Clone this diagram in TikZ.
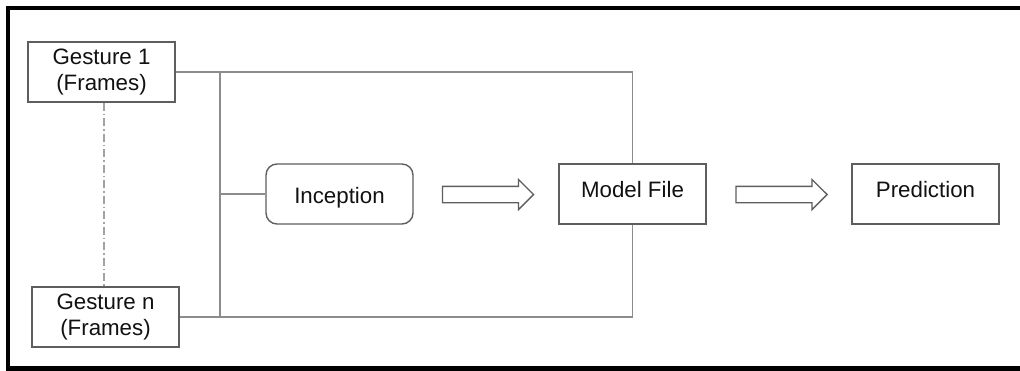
\documentclass[tikz,border=0pt]{standalone}
\usepackage{fontspec}
\setmainfont{Liberation Sans}
\usetikzlibrary{shapes.arrows}
\definecolor{boxline}{HTML}{5E5E5E}
\definecolor{wire}{HTML}{8C8C8C}
\definecolor{inktext}{HTML}{111111}
\newcommand{\basedat}[2]{\raisebox{#1}[0pt][0pt]{#2}}
\tikzset{
  stagebox/.style={draw=boxline, line width=1.4pt, minimum width=147pt, minimum height=60pt,
    inner sep=0pt, align=center, text=inktext, font=\fontsize{22.3}{25.5}\selectfont},
  roundbox/.style={stagebox, rounded corners=11pt},
  wireline/.style={draw=wire, line width=1.4pt},
  blockarrow/.style={single arrow, draw=boxline, line width=1.3pt, fill=white,
    minimum height=91pt, inner xsep=0pt, inner ysep=7.5pt, single arrow head extend=7pt},
  frameline/.style={draw=black, line width=4.5pt}
}
\begin{document}
\begin{tikzpicture}[x=1pt, y=-1pt]
  \useasboundingbox (0,0) rectangle (1020,370);
  % outer frame (left, top and bottom edges)
  \draw[frameline] (8,372) -- (8,8) -- (1022,8);
  \draw[frameline] (8,368.5) -- (1022,368.5);

  % input gestures
  \node[stagebox] (g1) at (101.5,72) {Gesture 1\\(Frames)};
  \node[stagebox] (gn) at (105.5,317) {Gesture n\\(Frames)};
  \draw[draw=wire!80, line width=1.2pt, dash pattern=on 8pt off 3pt on 1.5pt off 3pt]
    (g1.south -| 104,0) -- (gn.north -| 104,0);

  % processing stages (baselines placed by hand)
  \node[roundbox] (incep) at (339.5,194) {\basedat{-9pt}{Inception}};
  \node[stagebox] (model) at (632.5,194) {\basedat{-3.5pt}{Model File}};
  \node[stagebox] (pred) at (925.5,194) {\basedat{-3.5pt}{Prediction}};

  % bus joining the gestures to the stages
  \coordinate (bustop) at (220,72);
  \coordinate (busbot) at (220,317);
  \draw[wireline] (g1.east) -- (bustop);
  \draw[wireline] (gn.east) -- (busbot);
  \draw[wireline] (bustop) -- (busbot);
  \draw[wireline] (bustop) -| (model.north);
  \draw[wireline] (busbot) -| (model.south);
  \draw[wireline] (bustop |- incep.west) -- (incep.west);

  % flow arrows
  \node[blockarrow] (a1) at (484,194.5) {};
  \node[blockarrow] (a2) at (777.5,194.5) {};
\end{tikzpicture}
\end{document}
